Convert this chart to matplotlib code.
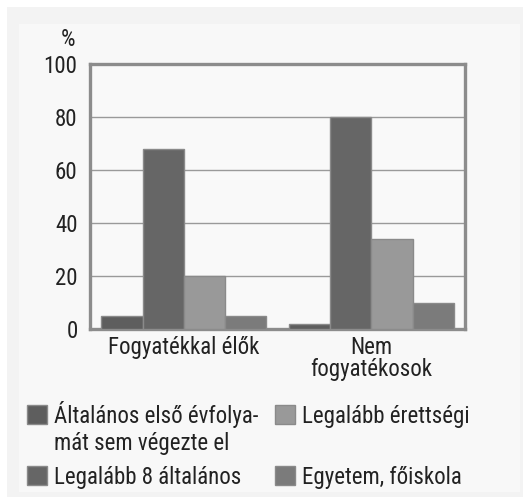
import matplotlib.pyplot as plt
from matplotlib.patches import Rectangle

# Data
groups = ['Fogyatékkal élők', 'Nem\nfogyatékosok']
series_names = ['Általános első évfolya-\nmát sem végezte el', 'Legalább 8 általános',
                'Legalább érettségi', 'Egyetem, főiskola']
series_values = [
    [5, 2],
    [68, 80],
    [20, 34],
    [5, 10],
]
series_colors = ['#5e5e5e', '#666666', '#999999', '#7b7b7b']
y_ticks = [0, 20, 40, 60, 80, 100]

plt.rcParams['font.family'] = ['Roboto Condensed', 'DejaVu Sans']
TXT = '#222222'
FS = 16.5

W, H = 523, 501
fig = plt.figure(figsize=(W / 100, H / 100), dpi=100)
fig.patch.set_facecolor('white')

def px_rect(x0, y0, x1, y1, **kw):
    # rectangle in pixel coords from the top-left corner
    return Rectangle((x0 / W, 1 - y1 / H), (x1 - x0) / W, (y1 - y0) / H,
                     transform=fig.transFigure, **kw)

# background panels
fig.patches.append(px_rect(7, 7, W, 497, facecolor='#f3f3f3', edgecolor='none', zorder=-3))
fig.patches.append(px_rect(19, 24, 520, 492, facecolor='#f8f8f8', edgecolor='none', zorder=-2))

ax = fig.add_axes([90 / W, 1 - 329 / H, 375 / W, 265 / H])
ax.set_facecolor('#f9f9f9')

width = 0.22
offsets = [-1.5, -0.5, 0.5, 1.5]
for vals, color, off in zip(series_values, series_colors, offsets):
    ax.bar([i + off * width for i in range(len(groups))], vals, width,
           color=color, edgecolor='#8a8a8a', linewidth=1.0, zorder=3)

ax.set_xlim(-0.5, 1.5)
ax.set_ylim(0, 100)
ax.set_yticks(y_ticks)
ax.set_yticklabels([str(t) for t in y_ticks], fontsize=FS, color=TXT)
ax.set_xticks(range(len(groups)))
ax.set_xticklabels(groups, fontsize=FS, color=TXT, linespacing=0.95)
ax.tick_params(length=0)
ax.tick_params(axis='y', pad=9)
ax.tick_params(axis='x', pad=5)
ax.grid(axis='y', color='#9a9a9a', linewidth=1.0, zorder=1)
for s in ax.spines.values():
    s.set_color('#8c8c8c')
    s.set_linewidth(2.4)

fig.text(68 / W, 1 - 40 / H, '%', fontsize=FS, ha='center', va='center', color=TXT)

# manual legend: two columns, first label wraps onto a second line
legend_pos = [(27, 405), (27, 466), (275, 405), (275, 466)]
for name, color, (lx, ly) in zip(series_names, series_colors, legend_pos):
    fig.patches.append(px_rect(lx, ly, lx + 20, ly + 19, facecolor=color,
                               edgecolor='#8a8a8a', linewidth=1.0))
    for k, line in enumerate(name.split('\n')):
        fig.text((lx + 27) / W, 1 - (ly + 18 + 27 * k) / H, line, fontsize=FS,
                 ha='left', va='baseline', color=TXT)

fig.savefig('out.png', dpi=100, facecolor=fig.get_facecolor())
